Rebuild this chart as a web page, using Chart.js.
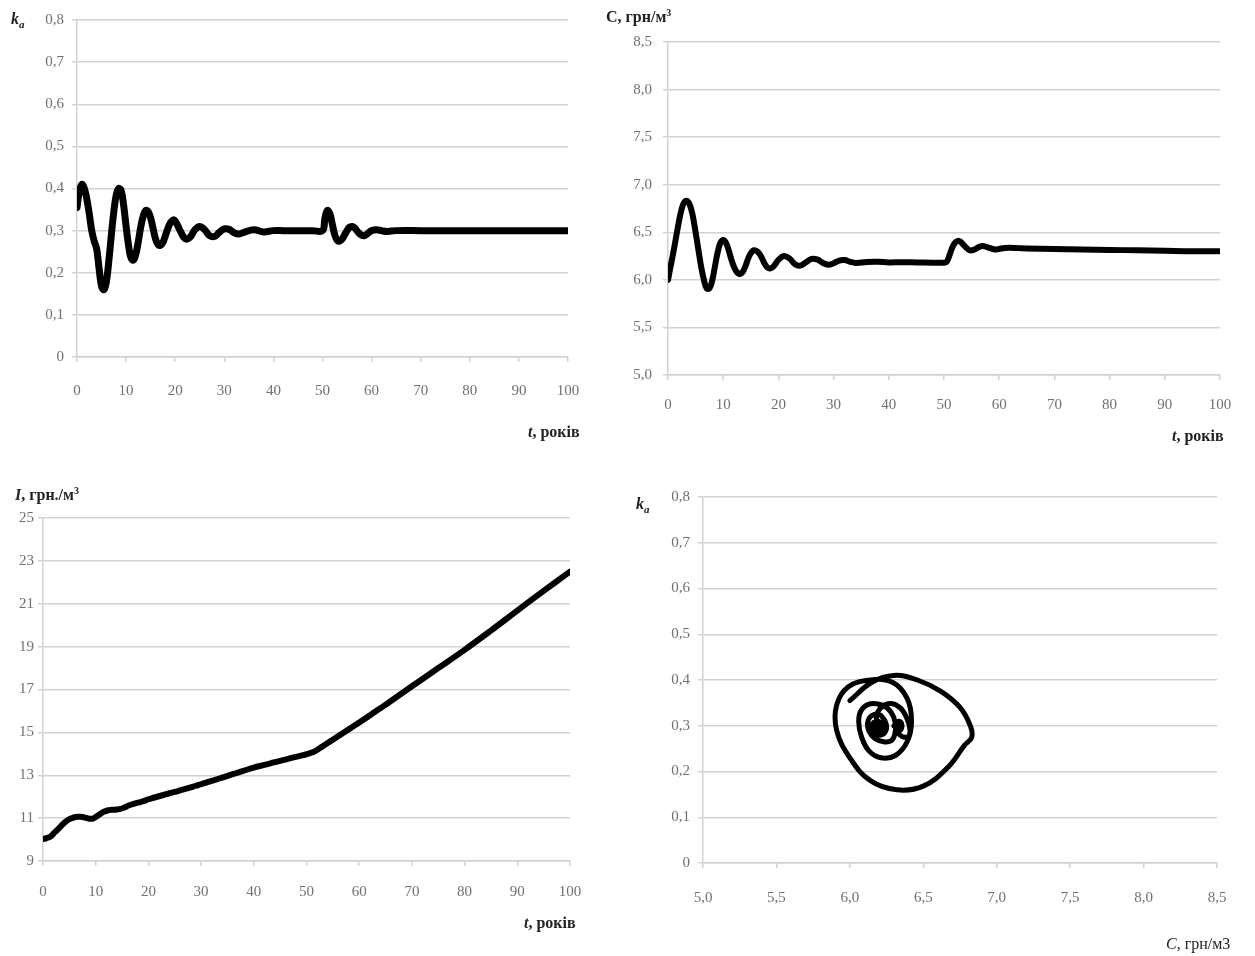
<!DOCTYPE html>
<html>
<head>
<meta charset="utf-8">
<script src="https://cdn.jsdelivr.net/npm/chart.js@4/dist/chart.umd.min.js"></script>
<style>
  body { margin: 0; background: #fff; }
  .box { position: absolute; }
  .lbl { position: absolute; font-family: "Liberation Serif", "Times New Roman", serif; font-size: 16px; font-weight: bold; color: #222; white-space: nowrap; }
  .lbl sub { font-size: 11px; }
  .reg { font-weight: normal; }
</style>
</head>
<body>
<div class="box" style="left:0;top:0"><canvas id="chKa" width="600" height="460"></canvas></div>
<div class="box" style="left:600px;top:0"><canvas id="chC" width="655" height="460"></canvas></div>
<div class="box" style="left:0;top:470px"><canvas id="chI" width="600" height="486"></canvas></div>
<div class="box" style="left:620px;top:470px"><canvas id="chPhase" width="635" height="486"></canvas></div>

<div class="lbl" style="left:11px;top:10px"><i>k</i><sub><i>a</i></sub></div>
<div class="lbl" style="left:528px;top:423px"><i>t</i>, років</div>
<div class="lbl" style="left:606px;top:7px">С, грн/м<sup style="font-size:10px">3</sup></div>
<div class="lbl" style="left:1172px;top:427px"><i>t</i>, років</div>
<div class="lbl" style="left:15px;top:485px"><i>I</i>, грн./м<sup style="font-size:10px">3</sup></div>
<div class="lbl" style="left:524px;top:914px"><i>t</i>, років</div>
<div class="lbl" style="left:636px;top:495px"><i>k</i><sub><i>a</i></sub></div>
<div class="lbl reg" style="left:1166px;top:935px"><i>C</i>, грн/м3</div>

<script>
// time grid (years) shared by all series
const tYears = [0, 0.5, 1, 1.5, 2, 2.5, 3, 3.5, 4, 4.5, 5, 5.5, 6, 6.5, 7, 7.5, 8, 8.5, 9, 9.5, 10,
  10.5, 11, 11.5, 12, 12.5, 13, 13.5, 14, 14.5, 15, 15.5, 16, 16.5, 17, 17.5, 18, 18.5, 19, 19.5, 20,
  21, 22, 23, 24, 25, 26, 27, 28, 29, 30, 31, 32, 33, 34,
  36, 38, 40, 42, 44, 46, 48, 50,
  50.5, 51, 51.5, 52, 52.5, 53, 53.5, 54, 54.5, 55, 55.5, 56, 56.5, 57, 57.5, 58, 58.5, 59, 59.5, 60,
  61, 62, 63, 64, 65, 70, 75, 80, 85, 90, 95, 100];

// k_a
const kaValues = [0.355, 0.395, 0.41, 0.40, 0.375, 0.34, 0.30, 0.275, 0.257, 0.21, 0.168, 0.16, 0.18, 0.23, 0.29, 0.345, 0.385, 0.40, 0.395, 0.36, 0.31,
  0.265, 0.235, 0.23, 0.245, 0.275, 0.31, 0.335, 0.348, 0.345, 0.33, 0.305, 0.28, 0.267, 0.265, 0.272, 0.288, 0.305, 0.318, 0.325, 0.323,
  0.30, 0.281, 0.284, 0.302, 0.31, 0.302, 0.288, 0.286, 0.296, 0.304, 0.303, 0.295, 0.292, 0.296,
  0.302, 0.297, 0.30, 0.30, 0.30, 0.30, 0.30, 0.30,
  0.33, 0.348, 0.34, 0.315, 0.29, 0.277, 0.275, 0.28, 0.29, 0.30, 0.308, 0.31, 0.307, 0.30, 0.293, 0.289, 0.288, 0.291, 0.296, 0.30,
  0.302, 0.30, 0.298, 0.299, 0.30, 0.30, 0.30, 0.30, 0.30, 0.30, 0.30, 0.30];

// C, грн/м3
const cValues = [6.00, 6.15, 6.30, 6.46, 6.62, 6.75, 6.82, 6.83, 6.78, 6.67, 6.50, 6.32, 6.14, 6.00, 5.91, 5.91, 5.99, 6.14, 6.29, 6.39, 6.42,
  6.39, 6.31, 6.21, 6.13, 6.08, 6.06, 6.08, 6.14, 6.22, 6.28, 6.31, 6.305, 6.28, 6.23, 6.17, 6.13, 6.12, 6.135, 6.17, 6.21,
  6.25, 6.225, 6.165, 6.15, 6.185, 6.22, 6.215, 6.18, 6.16, 6.175, 6.203, 6.208, 6.19, 6.178,
  6.188, 6.19, 6.183, 6.185, 6.185, 6.182, 6.18, 6.18,
  6.19, 6.26, 6.34, 6.39, 6.41, 6.40, 6.37, 6.34, 6.315, 6.31, 6.32, 6.335, 6.35, 6.355, 6.35, 6.34, 6.33, 6.322, 6.32, 6.325,
  6.335, 6.337, 6.335, 6.332, 6.33, 6.325, 6.32, 6.315, 6.31, 6.305, 6.30, 6.30];

// I, грн./м3
const iValues = [10.03, 10.05, 10.1, 10.15, 10.28, 10.4, 10.52, 10.65, 10.77, 10.87, 10.95, 11.0, 11.04, 11.06, 11.06, 11.05, 11.02, 10.99, 10.97, 10.98, 11.05,
  11.13, 11.22, 11.29, 11.34, 11.37, 11.39, 11.39, 11.40, 11.42, 11.45, 11.5, 11.56, 11.61, 11.65, 11.69, 11.72, 11.75, 11.79, 11.83, 11.88,
  11.95, 12.02, 12.09, 12.16, 12.22, 12.29, 12.36, 12.43, 12.51, 12.58, 12.66, 12.74, 12.81, 12.89,
  13.05, 13.2, 13.36, 13.48, 13.61, 13.73, 13.86, 13.98,
  14.02, 14.06, 14.11, 14.18, 14.26, 14.34, 14.42, 14.5, 14.58, 14.66, 14.74, 14.82, 14.9, 14.98, 15.06, 15.14, 15.22, 15.3, 15.38, 15.46,
  15.62, 15.79, 15.96, 16.12, 16.29, 17.15, 18.0, 18.85, 19.75, 20.68, 21.6, 22.5];

// tick labels
const yearTicks = ['0', '10', '20', '30', '40', '50', '60', '70', '80', '90', '100'];
const kaTicks = ['0', '0,1', '0,2', '0,3', '0,4', '0,5', '0,6', '0,7', '0,8'];
const cTicks = ['5,0', '5,5', '6,0', '6,5', '7,0', '7,5', '8,0', '8,5'];
const iTicks = ['9', '11', '13', '15', '17', '19', '21', '23', '25'];

const tickFont = { family: '"Liberation Serif", "Times New Roman", serif', size: 15 };
const tickColor = '#707070';
const gridColor = '#d2d2d2';

function axis(min, max, step, labels, pad, size, isX) {
  return {
    type: 'linear', min: min, max: max,
    ticks: {
      stepSize: step, color: tickColor, font: tickFont, padding: pad,
      autoSkip: false, maxRotation: 0,
      callback: (v, i) => labels[i]
    },
    grid: isX
      ? { drawOnChartArea: false, color: gridColor, lineWidth: 1.5, tickLength: 5 }
      : { color: gridColor, lineWidth: 1.5, tickLength: 5 },
    border: { color: gridColor, width: 1.5 },
    afterFit: isX ? (s) => { s.height = size; } : (s) => { s.width = size; }
  };
}

function makeChart(id, points, lineW, xAx, yAx, padding) {
  new Chart(document.getElementById(id), {
    type: 'scatter',
    data: {
      datasets: [{
        data: points,
        showLine: true,
        borderColor: '#000',
        borderWidth: lineW,
        pointRadius: 0,
        tension: 0.4,
        borderJoinStyle: 'round',
        borderCapStyle: 'round'
      }]
    },
    options: {
      responsive: false,
      animation: false,
      devicePixelRatio: 1,
      layout: { padding: padding },
      plugins: { legend: { display: false }, tooltip: { enabled: false } },
      scales: { x: xAx, y: yAx }
    }
  });
}

makeChart('chKa', tYears.map((t, i) => ({ x: t, y: kaValues[i] })), 7,
  axis(0, 100, 10, yearTicks, 20, 45, true),
  axis(0, 0.8, 0.1, kaTicks, 8, 77, false),
  { left: 0, top: 20, right: 32, bottom: 58 });

makeChart('chC', tYears.map((t, i) => ({ x: t, y: cValues[i] })), 6,
  axis(0, 100, 10, yearTicks, 16, 45, true),
  axis(5, 8.5, 0.5, cTicks, 11, 68, false),
  { left: 0, top: 42, right: 35, bottom: 40 });

makeChart('chI', tYears.map((t, i) => ({ x: t, y: iValues[i] })), 6,
  axis(0, 100, 10, yearTicks, 17, 45, true),
  axis(9, 25, 2, iTicks, 4, 43, false),
  { left: 0, top: 48, right: 30, bottom: 50 });

makeChart('chPhase', tYears.map((t, i) => ({ x: cValues[i], y: kaValues[i] })), 5,
  axis(5, 8.5, 0.5, cTicks, 21, 45, true),
  axis(0, 0.8, 0.1, kaTicks, 8, 83, false),
  { left: 0, top: 27, right: 38, bottom: 48 });
</script>
</body>
</html>
